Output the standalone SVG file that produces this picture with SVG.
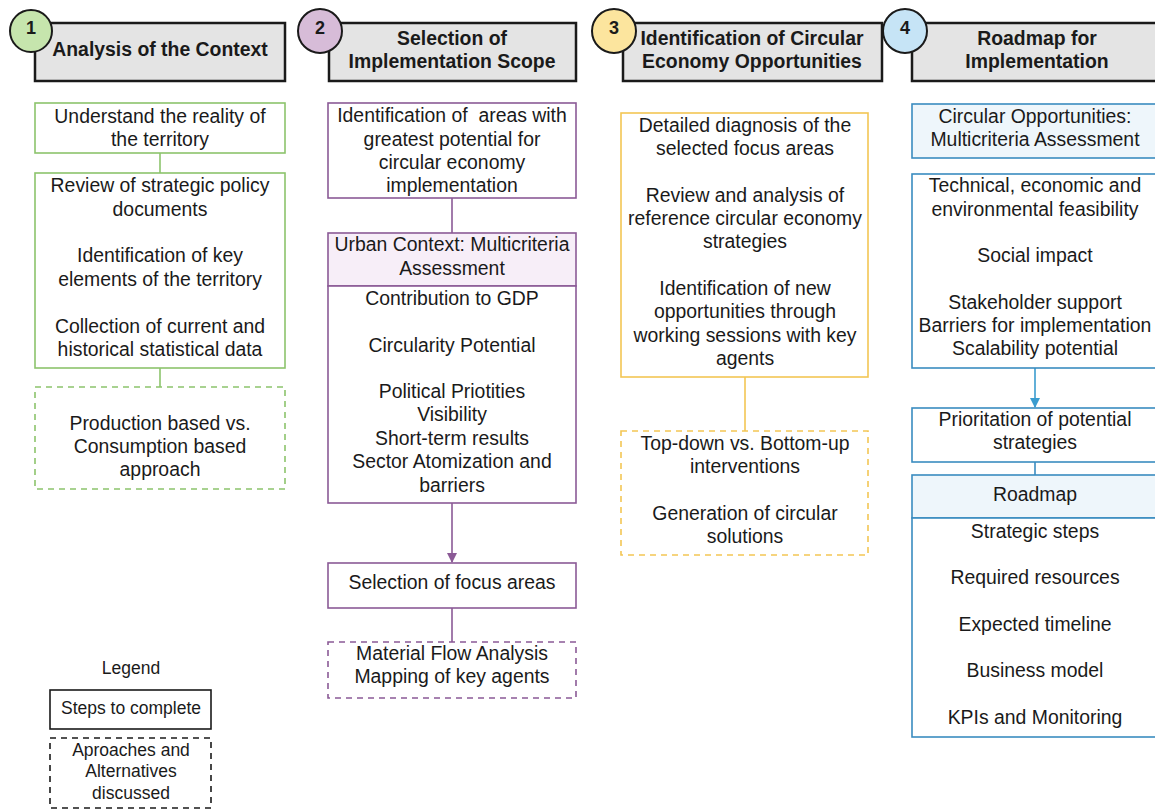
<svg xmlns="http://www.w3.org/2000/svg" width="1155" height="810" viewBox="0 0 1155 810">
<defs>
<style>
text{font-family:"Liberation Sans",Arial,sans-serif;fill:#1a1a1a;text-anchor:middle}
.t{font-size:19.4px}
.h{font-size:19.4px;font-weight:bold}
.n{font-size:18px;font-weight:bold}
.l{font-size:17.5px}
.hd{fill:#e4e4e4;stroke:#1a1a1a;stroke-width:2.5}
.c{stroke:#1a1a1a;stroke-width:2}
.g{fill:#fff;stroke:#8cc46c;stroke-width:1.6}
.p{fill:#fff;stroke:#8b5a96;stroke-width:1.6}
.y{fill:#fff;stroke:#f3c654;stroke-width:1.6}
.b{fill:#fff;stroke:#3a8cc0;stroke-width:1.6}
.d{stroke-dasharray:6 5}
.lg{fill:#fff;stroke:#1a1a1a;stroke-width:1.6}
</style>
<marker id="ap" viewBox="0 0 10 10" refX="9" refY="5" markerWidth="10" markerHeight="10" markerUnits="userSpaceOnUse" orient="auto"><path d="M0,0 L10,5 L0,10 z" fill="#8b5a96"/></marker>
<marker id="ab" viewBox="0 0 10 10" refX="9" refY="5" markerWidth="10" markerHeight="10" markerUnits="userSpaceOnUse" orient="auto"><path d="M0,0 L10,5 L0,10 z" fill="#3a9ccf"/></marker>
</defs>
<rect width="1155" height="810" fill="#fff"/>

<g id="connectors">
<line x1="160" y1="153" x2="160" y2="173" stroke="#8cc46c" stroke-width="1.6"/>
<line x1="160" y1="368" x2="160" y2="387" stroke="#8cc46c" stroke-width="1.6"/>
<line x1="452" y1="198" x2="452" y2="233" stroke="#8b5a96" stroke-width="1.6"/>
<line x1="452" y1="503" x2="452" y2="562" stroke="#8b5a96" stroke-width="1.6" marker-end="url(#ap)"/>
<line x1="452" y1="608" x2="452" y2="642" stroke="#8b5a96" stroke-width="1.6"/>
<line x1="745" y1="377" x2="745" y2="431" stroke="#f3c654" stroke-width="1.6"/>
<line x1="1035" y1="368" x2="1035" y2="407" stroke="#3a9ccf" stroke-width="1.6" marker-end="url(#ab)"/>
<line x1="1035" y1="462" x2="1035" y2="475" stroke="#3a8cc0" stroke-width="1.6"/>
</g>

<g id="header1">
<rect class="hd" x="35" y="23" width="250" height="58"/>
<circle cx="31" cy="31" r="21" fill="#c6e5ad" class="c"/>
<text class="n" x="31" y="34">1</text>
<text class="h" x="160" y="56">Analysis of the Context</text>
</g>
<g id="header2">
<rect class="hd" x="329" y="23" width="247" height="58"/>
<circle cx="320" cy="31" r="22" fill="#d7bcd8" class="c"/>
<text class="n" x="320" y="34">2</text>
<text class="h" x="452" y="45">Selection of</text>
<text class="h" x="452" y="68">Implementation Scope</text>
</g>
<g id="header3">
<rect class="hd" x="623" y="23" width="259" height="58"/>
<circle cx="614" cy="31" r="22" fill="#fce59e" class="c"/>
<text class="n" x="614" y="34">3</text>
<text class="h" x="752" y="45">Identification of Circular</text>
<text class="h" x="752" y="68">Economy Opportunities</text>
</g>
<g id="header4">
<rect class="hd" x="912" y="23" width="250" height="58"/>
<circle cx="905" cy="31" r="22" fill="#c6e4f6" class="c"/>
<text class="n" x="905" y="34">4</text>
<text class="h" x="1037" y="45">Roadmap for</text>
<text class="h" x="1037" y="68">Implementation</text>
</g>

<g id="c1-understand">
<rect class="g" x="35" y="103" width="250" height="50"/>
<text class="t" x="160" y="123">Understand the reality of</text>
<text class="t" x="160" y="146">the territory</text>
</g>
<g id="c1-review">
<rect class="g" x="35" y="173" width="250" height="195"/>
<text class="t" x="160" y="192">Review of strategic policy</text>
<text class="t" x="160" y="216">documents</text>
<text class="t" x="160" y="262">Identification of key</text>
<text class="t" x="160" y="286">elements of the territory</text>
<text class="t" x="160" y="333">Collection of current and</text>
<text class="t" x="160" y="356">historical statistical data</text>
</g>
<g id="c1-production">
<rect class="g d" x="35" y="387" width="250" height="102"/>
<text class="t" x="160" y="430">Production based vs.</text>
<text class="t" x="160" y="453">Consumption based</text>
<text class="t" x="160" y="476">approach</text>
</g>

<g id="c2-identification">
<rect class="p" x="328" y="103" width="248" height="95"/>
<text class="t" x="452" y="122" style="white-space:pre">Identification of  areas with</text>
<text class="t" x="452" y="146">greatest potential for</text>
<text class="t" x="452" y="169">circular economy</text>
<text class="t" x="452" y="192">implementation</text>
</g>
<g id="c2-urban">
<rect x="328" y="233" width="248" height="53" fill="#f7eef8" stroke="#8b5a96" stroke-width="1.6"/>
<rect class="p" x="328" y="286" width="248" height="217"/>
<text class="t" x="452" y="251">Urban Context: Multicriteria</text>
<text class="t" x="452" y="275">Assessment</text>
<text class="t" x="452" y="305">Contribution to GDP</text>
<text class="t" x="452" y="352">Circularity Potential</text>
<text class="t" x="452" y="398">Political Priotities</text>
<text class="t" x="452" y="421">Visibility</text>
<text class="t" x="452" y="445">Short-term results</text>
<text class="t" x="452" y="468">Sector Atomization and</text>
<text class="t" x="452" y="492">barriers</text>
</g>
<g id="c2-selection">
<rect class="p" x="328" y="563" width="248" height="45"/>
<text class="t" x="452" y="589">Selection of focus areas</text>
</g>
<g id="c2-mfa">
<rect class="p d" x="328" y="642" width="248" height="56"/>
<text class="t" x="452" y="660">Material Flow Analysis</text>
<text class="t" x="452" y="683">Mapping of key agents</text>
</g>

<g id="c3-diagnosis">
<rect class="y" x="621" y="113" width="247" height="264"/>
<text class="t" x="745" y="132">Detailed diagnosis of the</text>
<text class="t" x="745" y="155">selected focus areas</text>
<text class="t" x="745" y="202">Review and analysis of</text>
<text class="t" x="745" y="225">reference circular economy</text>
<text class="t" x="745" y="248">strategies</text>
<text class="t" x="745" y="295">Identification of new</text>
<text class="t" x="745" y="318">opportunities through</text>
<text class="t" x="745" y="342">working sessions with key</text>
<text class="t" x="745" y="365">agents</text>
</g>
<g id="c3-topdown">
<rect class="y d" x="621" y="431" width="247" height="124"/>
<text class="t" x="745" y="450">Top-down vs. Bottom-up</text>
<text class="t" x="745" y="473">interventions</text>
<text class="t" x="745" y="520">Generation of circular</text>
<text class="t" x="745" y="543">solutions</text>
</g>

<g id="c4-circular">
<rect x="912" y="104" width="250" height="54" fill="#eef6fb" stroke="#3a8cc0" stroke-width="1.6"/>
<text class="t" x="1035" y="123">Circular Opportunities:</text>
<text class="t" x="1035" y="146">Multicriteria Assessment</text>
</g>
<g id="c4-feasibility">
<rect class="b" x="912" y="174" width="250" height="194"/>
<text class="t" x="1035" y="192">Technical, economic and</text>
<text class="t" x="1035" y="216">environmental feasibility</text>
<text class="t" x="1035" y="262">Social impact</text>
<text class="t" x="1035" y="309">Stakeholder support</text>
<text class="t" x="1035" y="332">Barriers for implementation</text>
<text class="t" x="1035" y="355">Scalability potential</text>
</g>
<g id="c4-prioritation">
<rect class="b" x="912" y="408" width="250" height="54"/>
<text class="t" x="1035" y="426">Prioritation of potential</text>
<text class="t" x="1035" y="449">strategies</text>
</g>
<g id="c4-roadmap">
<rect x="912" y="475" width="250" height="43" fill="#eef6fb" stroke="#3a8cc0" stroke-width="1.6"/>
<rect class="b" x="912" y="518" width="250" height="219"/>
<text class="t" x="1035" y="501">Roadmap</text>
<text class="t" x="1035" y="538">Strategic steps</text>
<text class="t" x="1035" y="584">Required resources</text>
<text class="t" x="1035" y="631">Expected timeline</text>
<text class="t" x="1035" y="677">Business model</text>
<text class="t" x="1035" y="724">KPIs and Monitoring</text>
</g>

<g id="legend">
<text class="l" x="131" y="674">Legend</text>
<rect class="lg" x="50" y="690" width="161" height="39"/>
<text class="l" x="131" y="714">Steps to complete</text>
<rect class="lg d" x="50" y="738" width="161" height="70"/>
<text class="l" x="131" y="756">Aproaches and</text>
<text class="l" x="131" y="777">Alternatives</text>
<text class="l" x="131" y="799">discussed</text>
</g>
</svg>
